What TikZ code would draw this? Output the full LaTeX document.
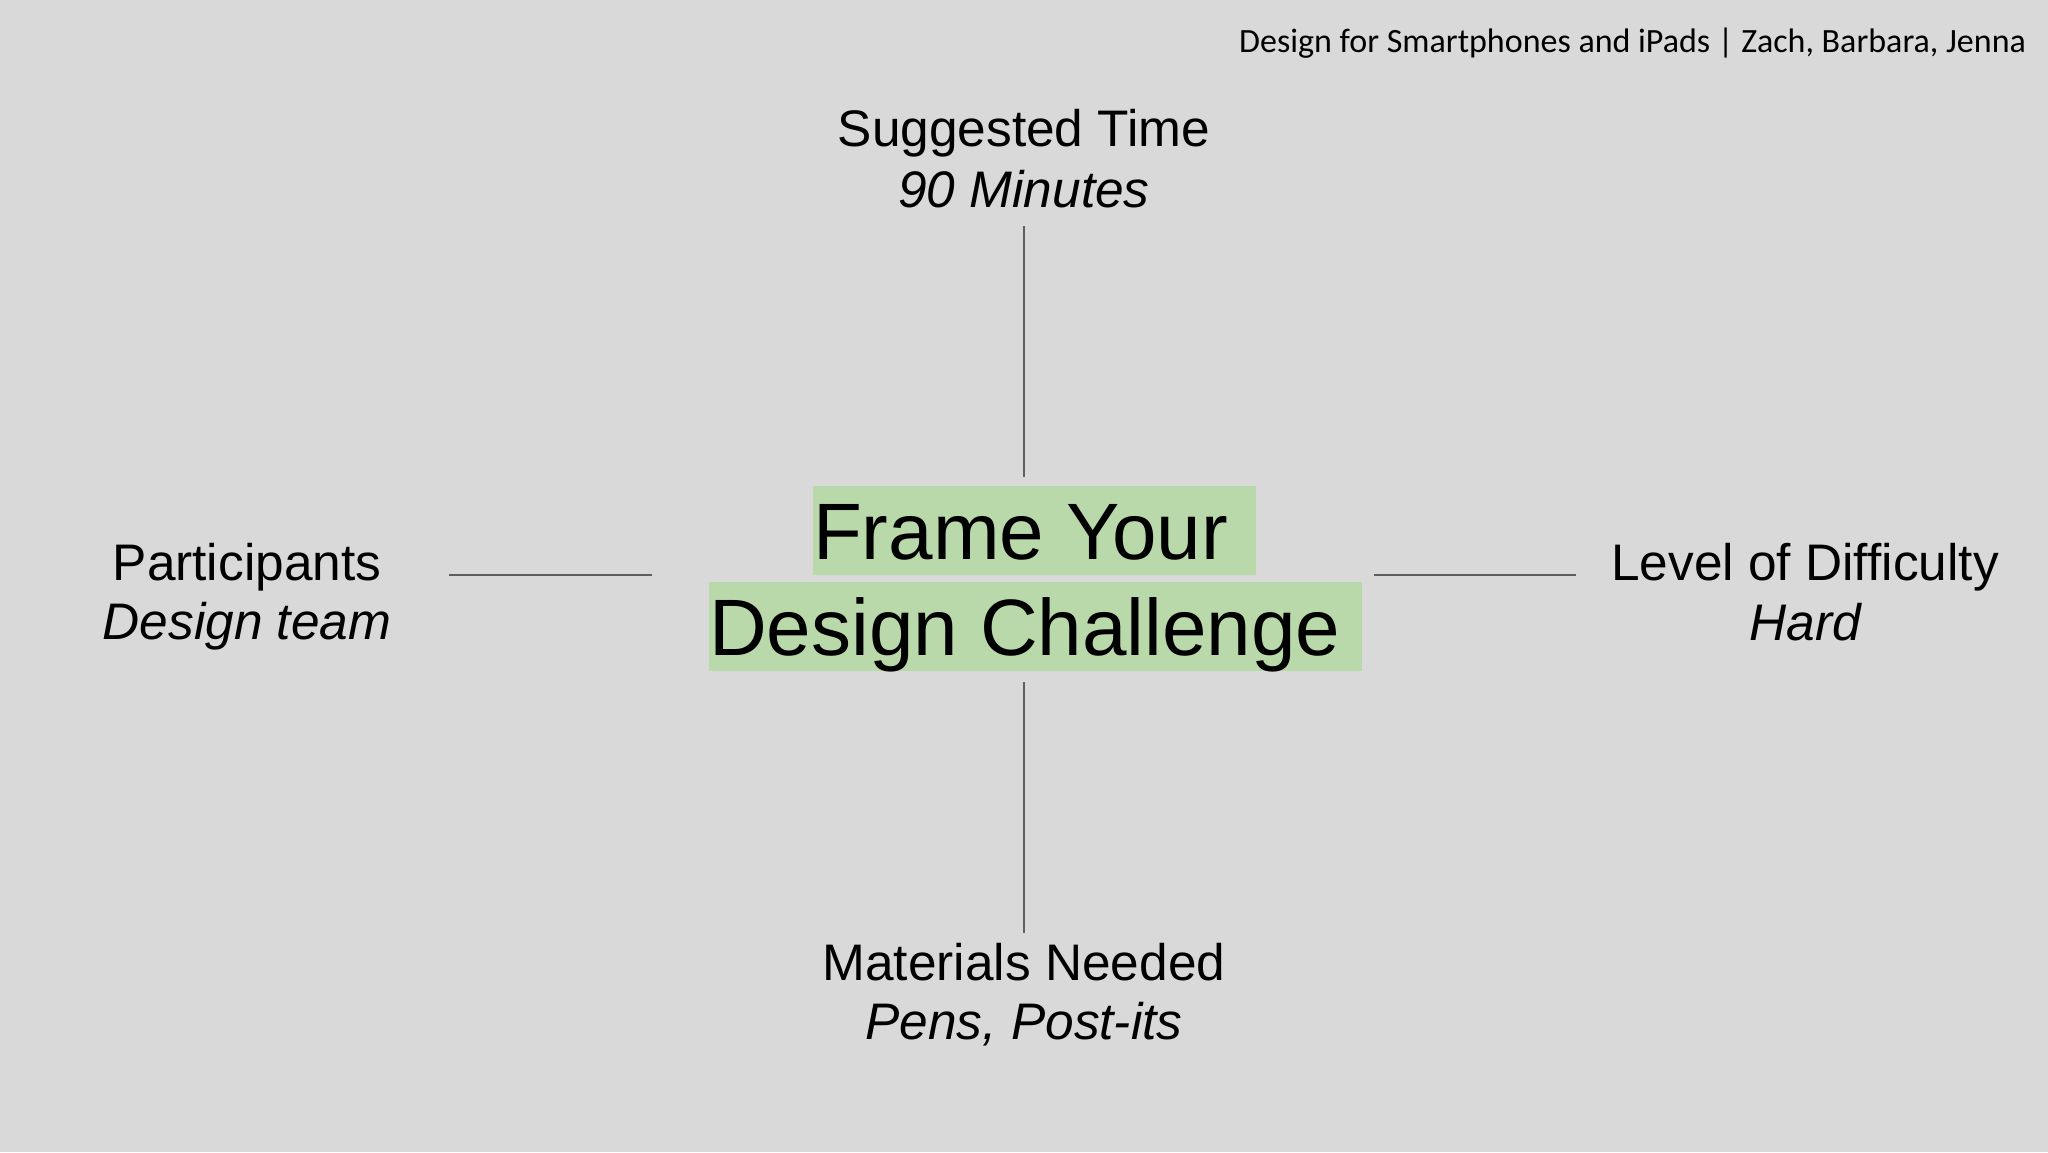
\documentclass[tikz,border=0pt]{standalone}
\usepackage{fontspec}
\setmainfont{Liberation Sans}
\newfontfamily\hdrfont{Carlito}
\definecolor{bgcol}{HTML}{D9D9D9}
\definecolor{hilite}{HTML}{BAD9AB}
\definecolor{linecol}{HTML}{5F5F5F}
\begin{document}
\begin{tikzpicture}[x=0.5pt,y=-0.5pt,
  lbl/.style={inner sep=0pt, outer sep=0pt, text=black, font=\fontsize{25.7pt}{30pt}\selectfont},
  sub/.style={lbl, font=\fontsize{25.7pt}{30pt}\selectfont\itshape},
  titlebox/.style={fill=hilite, inner sep=0pt, outer sep=0pt, text=black,
    text height=36.5pt, text depth=8pt, font=\fontsize{40pt}{48pt}\selectfont},
  hdr/.style={inner sep=0pt, outer sep=0pt, text=black, font=\hdrfont\fontsize{17pt}{20pt}\selectfont},
  conn/.style={draw=linecol, line width=0.8pt}]
\fill[bgcol] (0,0) rectangle (2048,1152);
\useasboundingbox (0,0) rectangle (2048,1152);

% header
\node[hdr, anchor=base east] (header) at (2026,52) {Design for Smartphones and iPads | Zach, Barbara, Jenna};

% centre title
\node[titlebox, anchor=base west] (title1) at (813,559) {Frame Your\kern14pt};
\node[titlebox, anchor=base west] (title2) at (709,655) {Design Challenge\kern10.5pt};

% labels
\node[lbl, anchor=base] (timeA) at (1024,146) {Suggested Time};
\node[sub, anchor=base] (timeB) at (1024,207) {90 Minutes};

\node[lbl, anchor=base] (partA) at (247,580) {Participants};
\node[sub, anchor=base] (partB) at (247,639) {Design team};

\node[lbl, anchor=base] (levA) at (1805,580) {Level of Difficulty};
\node[sub, anchor=base] (levB) at (1805,640) {Hard};

\node[lbl, anchor=base] (matA) at (1024,980) {Materials Needed};
\node[sub, anchor=base] (matB) at (1024,1039) {Pens, Post-its};

% connector end points
\coordinate (topA) at (1024,226);
\coordinate (topB) at (1024,477);
\coordinate (botA) at (1024,682);
\coordinate (botB) at (1024,933);
\coordinate (leftA) at (449,575);
\coordinate (leftB) at (652,575);
\coordinate (rightA) at (1374,575);
\coordinate (rightB) at (1576,575);

\draw[conn] (topA) -- (topB);
\draw[conn] (botA) -- (botB);
\draw[conn] (leftA) -- (leftB);
\draw[conn] (rightA) -- (rightB);
\end{tikzpicture}
\end{document}
